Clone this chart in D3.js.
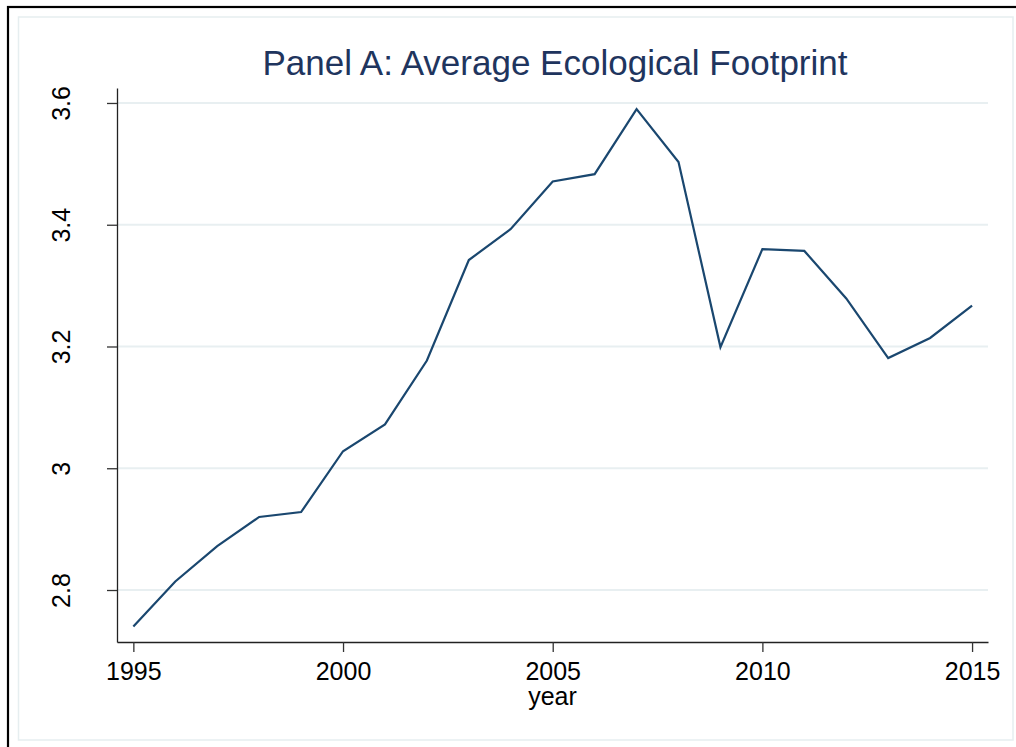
<!DOCTYPE html>
<html>
<head>
<meta charset="utf-8">
<script src="https://cdn.jsdelivr.net/npm/d3@7"></script>
<style>
  html, body { margin: 0; padding: 0; background: #fff; }
  svg { display: block; }
  text { font-family: "Liberation Sans", Arial, sans-serif; }
</style>
</head>
<body>
<svg id="chart" width="1016" height="747"></svg>
<script>
const years = [1995,1996,1997,1998,1999,2000,2001,2002,2003,2004,2005,2006,2007,2008,2009,2010,2011,2012,2013,2014,2015];
const footprint = [2.740,2.814,2.872,2.920,2.928,3.028,3.072,3.177,3.342,3.393,3.471,3.483,3.590,3.503,3.199,3.360,3.357,3.279,3.181,3.214,3.267];
const xTicks = [1995,2000,2005,2010,2015];
const yTicks = [2.8,3.0,3.2,3.4,3.6];
const yTickLabels = ["2.8","3","3.2","3.4","3.6"];
const titleText = "Panel A: Average Ecological Footprint";
const xTitle = "year";

const svg = d3.select("#chart");

// outer frame
svg.append("rect").attr("x", 8).attr("y", 7).attr("width", 1020).attr("height", 760)
  .attr("fill", "#fff").attr("stroke", "#000").attr("stroke-width", 2.2);
// inner light frame
svg.append("rect").attr("x", 18.5).attr("y", 17).attr("width", 994.5).attr("height", 723)
  .attr("fill", "#fff").attr("stroke", "#e6eef0").attr("stroke-width", 1.5);

const x = d3.scaleLinear().domain([1994.61, 2015.38]).range([117, 988]);
const y = d3.scaleLinear().domain([2.7146, 3.6246]).range([642, 88]);

// gridlines
svg.append("g").selectAll("line").data(yTicks).join("line")
  .attr("x1", 117).attr("x2", 988)
  .attr("y1", d => y(d)).attr("y2", d => y(d))
  .attr("stroke", "#e8eff1").attr("stroke-width", 2);

// y axis
const yAxis = d3.axisLeft(y).tickValues(yTicks).tickSize(10).tickSizeOuter(0)
  .tickFormat((d, i) => yTickLabels[i]);
const gy = svg.append("g").attr("transform", "translate(117,0)").call(yAxis);
gy.select(".domain").attr("stroke", "#222").attr("stroke-width", 1.3);
gy.selectAll(".tick line").attr("stroke", "#333").attr("stroke-width", 1.3);
gy.selectAll(".tick text")
  .attr("font-size", 25).attr("fill", "#000")
  .attr("text-anchor", "middle")
  .attr("x", null).attr("dy", null)
  .attr("transform", "translate(-47,0) rotate(-90)");

// x axis
const xAxis = d3.axisBottom(x).tickValues(xTicks).tickSize(10).tickSizeOuter(0)
  .tickFormat(d3.format("d"));
const gx = svg.append("g").attr("transform", "translate(0,642)").call(xAxis);
gx.select(".domain").attr("stroke", "#222").attr("stroke-width", 1.3);
gx.selectAll(".tick line").attr("stroke", "#333").attr("stroke-width", 1.3);
gx.selectAll(".tick text")
  .attr("font-size", 25).attr("fill", "#000")
  .attr("y", 38).attr("dy", null);

// line
const line = d3.line().x((d, i) => x(years[i])).y(d => y(d));
svg.append("path").datum(footprint)
  .attr("d", line)
  .attr("fill", "none").attr("stroke", "#1a476f").attr("stroke-width", 2.2)
  .attr("stroke-linejoin", "miter");

// x title
svg.append("text").attr("x", 552.5).attr("y", 705)
  .attr("text-anchor", "middle").attr("font-size", 25).attr("fill", "#000")
  .text(xTitle);

// title
svg.append("text").attr("x", 555).attr("y", 75)
  .attr("text-anchor", "middle").attr("font-size", 35).attr("fill", "#1f355e")
  .text(titleText);
</script>
</body>
</html>
